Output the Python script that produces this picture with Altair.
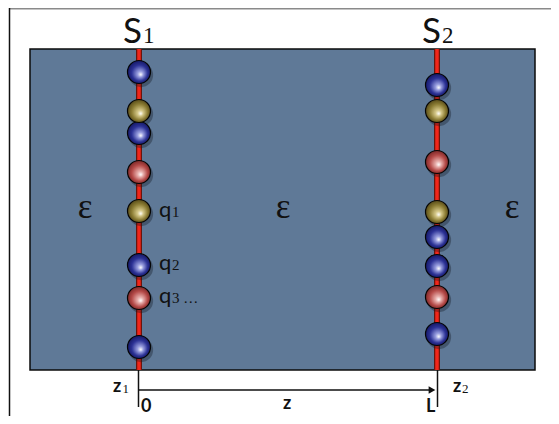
import altair as alt
import pandas as pd

# ---- diagram data (page pixel coordinates) ----
plane_x = [139, 437]                      # S1, S2 surfaces
plane_names = ["S", "S"]
plane_subs = ["1", "2"]

# charges on S1 (y positions) and their kinds
s1_y = [72, 111, 133, 172, 211, 265, 298, 347]
s1_kind = ["blue", "gold", "blue", "red", "gold", "blue", "red", "blue"]
# charges on S2
s2_y = [85, 111, 162, 212, 237, 266, 297, 334]
s2_kind = ["blue", "gold", "red", "gold", "blue", "blue", "red", "blue"]

eps_x = [85, 283, 512]
eps_y = [218, 218, 218]

q_labels = ["q", "q", "q"]
q_subs = ["1", "2", "3 …"]
q_base = [217, 270, 303]

box = dict(x=30, x2=535, y=49, y2=370)

# ---- tables ----
charges = pd.DataFrame({
    "x": [plane_x[0]] * len(s1_y) + [plane_x[1]] * len(s2_y),
    "y": s1_y + s2_y,
    "kind": s1_kind + s2_kind,
})

W, H = 543, 408
xs = alt.Scale(domain=[8, 8 + W], nice=False, zero=False)
ys = alt.Scale(domain=[8 + H, 8], nice=False, zero=False)


def X(f="x"):
    return alt.X(f"{f}:Q", scale=xs, axis=None)


def Y(f="y"):
    return alt.Y(f"{f}:Q", scale=ys, axis=None)


def segs(rows):
    return pd.DataFrame(rows, columns=["x", "y", "x2", "y2"])


# outer frame
frame_top = alt.Chart(segs([[9, 8.5, 559, 8.5]])).mark_rule(color="#8a8a8a", strokeWidth=2).encode(
    x=X(), y=Y(), x2="x2:Q", y2="y2:Q")
frame_left = alt.Chart(segs([[9.5, 8, 9.5, 424]])).mark_rule(color="#111111", strokeWidth=1.5).encode(
    x=X(), y=Y(), x2="x2:Q", y2="y2:Q")

# dielectric box
rect = alt.Chart(pd.DataFrame([box])).mark_rect(
    fill="#5f7997", stroke="#0b0b0b", strokeWidth=1.5).encode(
    x=X(), y=Y(), x2="x2:Q", y2="y2:Q")

# red surface lines
planes = pd.DataFrame({"x": plane_x, "y": [box["y"]] * 2, "y2": [box["y2"]] * 2})
plane_dark = alt.Chart(planes).mark_rule(color="#6a140c", strokeWidth=6).encode(
    x=X(), y=Y(), y2="y2:Q")
plane_red = alt.Chart(planes).mark_rule(color="#f2261a", strokeWidth=3.5).encode(
    x=X(), y=Y(), y2="y2:Q")

# bottom axis lines
blines = segs([[138.5, 370, 138.5, 407], [437.5, 370, 437.5, 407], [138.5, 390, 431, 390]])
bottom = alt.Chart(blines).mark_rule(color="#111111", strokeWidth=1.5).encode(
    x=X(), y=Y(), x2="x2:Q", y2="y2:Q")
arrow = alt.Chart(pd.DataFrame({"x": [432], "y": [390]})).mark_point(
    shape="triangle-right", filled=True, color="#111111", size=60, opacity=1).encode(x=X(), y=Y())

# charges
size = 530
shadow = alt.Chart(charges).transform_calculate(sx="datum.x + 2", sy="datum.y + 3").mark_point(
    shape="circle", filled=True, color="#101820", opacity=0.35, size=size + 60).encode(
    x=X("sx"), y=Y("sy"))

palettes = {
    "blue": ["#ffffff", "#9aa0e0", "#2c3296", "#0f1258"],
    "gold": ["#ffffff", "#d6c98a", "#8c7d34", "#4a3f12"],
    "red": ["#ffffff", "#e8b0ad", "#b54a48", "#6e2020"],
}


def grad(c):
    return alt.RadialGradient(
        gradient="radial",
        stops=[alt.GradientStop(offset=0, color=c[0]),
               alt.GradientStop(offset=0.22, color=c[1]),
               alt.GradientStop(offset=0.62, color=c[2]),
               alt.GradientStop(offset=1, color=c[3])],
        x1=0.58, y1=0.62, r1=0.0, x2=0.5, y2=0.5, r2=0.55)


balls = []
for k, c in palettes.items():
    balls.append(
        alt.Chart(charges[charges.kind == k]).mark_point(
            shape="circle", filled=True, fill=grad(c), stroke="#050505", strokeWidth=1.2,
            opacity=1, fillOpacity=1, size=size).encode(x=X(), y=Y()))

# texts
def txt(df, **kw):
    return alt.Chart(pd.DataFrame(df)).mark_text(baseline="alphabetic", **kw).encode(
        x=X(), y=Y(), text="t:N")


s_main = txt({"x": [123, 422], "y": [43, 43], "t": plane_names},
             align="left", font="Lato", fontSize=35, color="#111111")
s_sub = txt({"x": [143, 442], "y": [43, 43], "t": plane_subs},
            align="left", font="Liberation Serif", fontSize=23, color="#111111")
eps = txt({"x": eps_x, "y": eps_y, "t": ["ε"] * 3},
          align="center", font="Liberation Serif", fontSize=35, color="#111111")
q_main = txt({"x": [159] * 3, "y": q_base, "t": q_labels},
             align="left", font="Lato", fontSize=22, color="#111111")
q_sub = txt({"x": [172] * 3, "y": q_base, "t": q_subs},
            align="left", font="Liberation Serif", fontSize=15, color="#111111")
z_main = txt({"x": [113, 453], "y": [392, 392], "t": ["z", "z"]},
             align="left", font="Lato", fontWeight="bold", fontSize=18, color="#111111")
z_sub = txt({"x": [122.5, 462], "y": [393, 393], "t": ["1", "2"]},
            align="left", font="Liberation Serif", fontSize=13, color="#111111")
ax_lab = txt({"x": [141, 283, 426], "y": [412, 409, 412], "t": ["0", "z", "L"]},
             align="left", font="Lato", fontWeight="bold", fontSize=18, color="#111111")

chart = alt.layer(
    frame_top, frame_left, rect, plane_dark, plane_red, bottom, arrow,
    shadow, *balls, s_main, s_sub, eps, q_main, q_sub, z_main, z_sub, ax_lab,
).properties(
    width=W, height=H, autosize=alt.AutoSizeParams(type="none"), padding=0,
    background="white",
).configure_view(stroke=None)

chart.save("out.html", embed_options={"renderer": "svg", "actions": False})
